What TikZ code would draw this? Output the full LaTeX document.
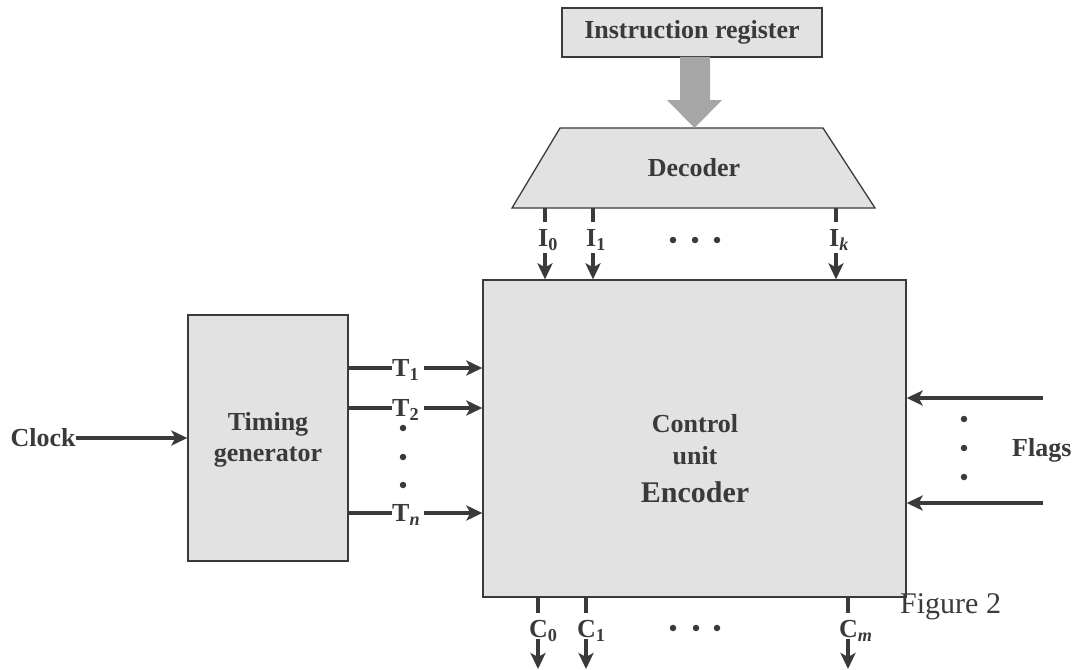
\documentclass[tikz,border=0pt]{standalone}
\usepackage{fontspec}
\setmainfont{Liberation Serif}
\usetikzlibrary{arrows.meta,calc}
\definecolor{boxfill}{HTML}{E2E2E2}
\definecolor{ink}{HTML}{3A3A3A}
\definecolor{bigarrow}{HTML}{A6A6A6}
\tikzset{
 blk/.style={draw=ink, line width=1.3pt, fill=boxfill, inner sep=0pt},
 lbl/.style={font=\fontsize{26}{31}\selectfont\bfseries, text=ink, inner sep=0pt, align=center},
 arr/.style={draw=ink, line width=4.5pt, -{Stealth[length=16pt,width=15pt,inset=4pt]}},
 stub/.style={draw=ink, line width=4.5pt},
 dotm/.style={fill=ink, circle, inner sep=0pt, minimum size=6.5pt},
}
\begin{document}
\begin{tikzpicture}[x=1pt,y=-1pt]
\useasboundingbox (0,0) rectangle (1073,669);

% Instruction register
\node[blk, minimum width=260pt, minimum height=49pt] (ir) at (692,32.5) {};
\node[lbl] (irt) at (ir.center) {Instruction register};

% Decoder trapezoid
\coordinate (dtl) at (560,128);
\coordinate (dtr) at (823,128);
\coordinate (dbr) at (875,208);
\coordinate (dbl) at (512,208);
\draw[blk] (dtl) -- (dtr) -- (dbr) -- (dbl) -- cycle;
\node[lbl] (dec) at (694,168) {Decoder};

% big gray arrow
\fill[bigarrow] (680,57) -- (710,57) -- (710,100) -- (722,100) -- (694.5,128) -- (667,100) -- (680,100) -- cycle;

% Control unit
\node[blk, minimum width=423pt, minimum height=317pt] (cu) at (694.5,438.5) {};
\node[lbl] (cut1) at (695,424) {Control};
\node[lbl] (cut2) at (695,456) {unit};
\node[lbl, font=\fontsize{30}{32}\selectfont\bfseries] (cut3) at (695,492) {Encoder};

% Timing generator
\node[blk, minimum width=160pt, minimum height=246pt] (tg) at (268,438) {};
\node[lbl] (tgt) at (268,440) {Timing\\generator};

% Clock
\node[lbl] (clk) at (43,438) {Clock};
\draw[arr] (clk.east) -- (tg.west |- clk.east);

% T signals
\foreach \y/\s/\nm in {368/1/t1, 408/2/t2, 513/\textit{n}/tn}{
  \node[lbl, anchor=west] (\nm) at (392,\y+2) {T\textsubscript{\s}};
  \coordinate (\nm a) at (348,\y);
  \coordinate (\nm b) at (392,\y);
  \coordinate (\nm c) at (424,\y);
  \draw[stub] (\nm a) -- (\nm b);
  \draw[arr] (\nm c) -- (cu.west |- \nm c);
}
\foreach \y/\k in {428/1,457/2,485/3}{
  \node[dotm] (td\k) at (403,\y) {};
}

% Flags
\coordinate (f1) at (1043,398);
\coordinate (f2) at (1043,503);
\draw[arr] (f1) -- (cu.east |- f1);
\draw[arr] (f2) -- (cu.east |- f2);
\foreach \y/\k in {419/1,448/2,477/3}{
  \node[dotm] (fd\k) at (964,\y) {};
}
\node[lbl, anchor=west] (flags) at (1012,450) {Flags};

% I signals
\foreach \x/\s/\nm in {545/0/i0, 593/1/i1, 836/\textit{k}/ik}{
  \node[lbl, anchor=west] (\nm) at ($(\x,240)+(-7,0)$) {I\textsubscript{\s}};
  \coordinate (\nm a) at (\x,208);
  \coordinate (\nm b) at (\x,222);
  \coordinate (\nm c) at (\x,253);
  \draw[stub] (\nm a) -- (\nm b);
  \draw[arr] (\nm c) -- (cu.north -| \nm c);
}
\foreach \x/\k in {673/1,695/2,717/3}{
  \node[dotm] (id\k) at (\x,240) {};
}

% C signals
\foreach \x/\s/\nm in {538/0/c0, 586/1/c1, 848/\textit{m}/cm}{
  \node[lbl, anchor=west] (\nm) at ($(\x,631)+(-9,0)$) {C\textsubscript{\s}};
  \coordinate (\nm a) at (\x,597);
  \coordinate (\nm b) at (\x,613);
  \coordinate (\nm c) at (\x,639);
  \coordinate (\nm d) at (\x,669);
  \draw[stub] (\nm a) -- (\nm b);
  \draw[arr] (\nm c) -- (\nm d);
}
\foreach \x/\k in {673/1,696/2,717/3}{
  \node[dotm] (cd\k) at (\x,628) {};
}

% Figure caption
\node[font=\fontsize{30}{32}\selectfont, text=ink, inner sep=0pt, anchor=west] (fig) at (900,607) {Figure 2};
\end{tikzpicture}
\end{document}
